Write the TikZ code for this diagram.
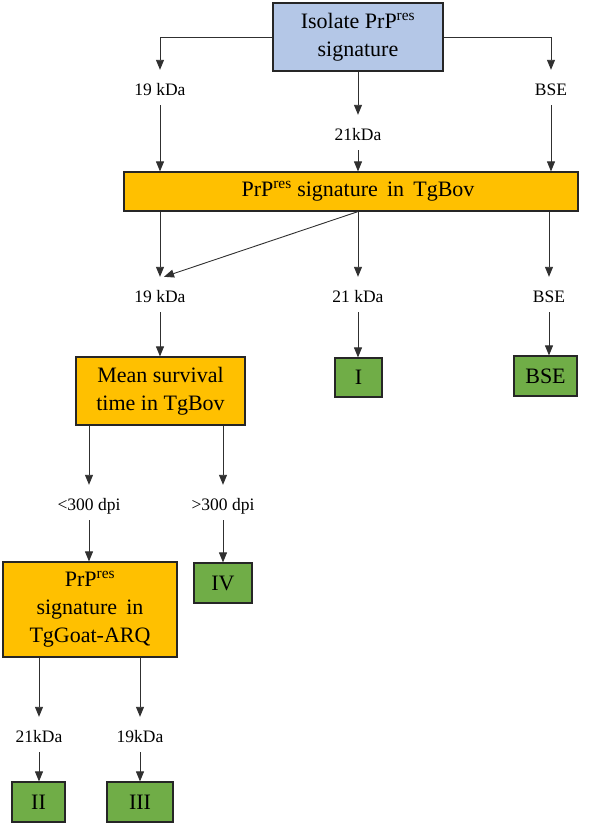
\documentclass[tikz,border=0pt]{standalone}
\usepackage{fontspec}
\setmainfont{Liberation Serif}
\usetikzlibrary{arrows.meta}
\definecolor{blueC}{HTML}{B4C7E7}
\definecolor{orangeC}{HTML}{FFC000}
\definecolor{greenC}{HTML}{70AD47}
\definecolor{lineC}{HTML}{303030}
\begin{document}
\begin{tikzpicture}[x=1pt,y=-1pt,
  box/.style={draw=black!85,line width=1.2pt,inner sep=0pt,align=center,
    font=\fontsize{22}{28}\selectfont},
  lbl/.style={inner sep=0pt,text height=25pt,text depth=10pt,anchor=base,
    font=\fontsize{17.5}{20}\selectfont},
  arr/.style={draw=lineC,line width=0.9pt,-{Triangle[length=10pt,width=8pt]}},
  ln/.style={draw=lineC,line width=0.9pt}]
\useasboundingbox (0,0) rectangle (597,825);
% top
\node[box,fill=blueC,minimum width=170pt,minimum height=68pt] (iso) at (358,37) {Isolate PrP\textsuperscript{res}\\signature};
\node[lbl] (l19a) at (160,95) {19 kDa};
\node[lbl] (l21a) at (358,140) {21kDa};
\node[lbl] (lbsea) at (551,95) {BSE};
\node[box,fill=orangeC,minimum width=454pt,minimum height=39pt] (bar) at (351,191.5) {\hspace*{14pt}PrP\textsuperscript{res} signature\, in\, TgBov};
\draw[arr] (iso.west) -| (l19a.north);
\draw[arr] (iso.east) -| (lbsea.north);
\draw[arr] (iso.south) -- (l21a.north);
\draw[arr] (l19a.south) -- (l19a.south |- bar.north);
\draw[arr] (l21a.south) -- (l21a.south |- bar.north);
\draw[arr] (lbsea.south) -- (lbsea.south |- bar.north);
% second row
\node[lbl] (l19b) at (160,302) {19 kDa};
\node[lbl] (l21b) at (358,302) {21 kDa};
\node[lbl] (lbseb) at (549,302) {BSE};
\draw[arr] (l19b.north |- bar.south) -- (l19b.north);
\draw[arr] (l21b.north |- bar.south) -- (l21b.north);
\draw[arr] (lbseb.north |- bar.south) -- (lbseb.north);
\draw[arr] (l21b.north |- bar.south) -- ([xshift=4pt]l19b.north);
\node[box,fill=orangeC,minimum width=169pt,minimum height=68pt] (mean) at (160.5,391) {Mean survival\\time in TgBov};
\node[box,fill=greenC,minimum width=47pt,minimum height=39pt] (gI) at (358.5,377.5) {I};
\node[box,fill=greenC,minimum width=63pt,minimum height=40pt] (gBSE) at (545.5,376) {BSE};
\draw[arr] (l19b.south) -- (l19b.south |- mean.north);
\draw[arr] (l21b.south) -- (l21b.south |- gI.north);
\draw[arr] (lbseb.south) -- (lbseb.south |- gBSE.north);
% third row
\node[lbl] (llt) at (89,510) {<300 dpi};
\node[lbl] (lgt) at (223,510) {>300 dpi};
\draw[arr] (llt.north |- mean.south) -- (llt.north);
\draw[arr] (lgt.north |- mean.south) -- (lgt.north);
\node[box,fill=orangeC,minimum width=174pt,minimum height=95pt] (goat) at (90,609.5) {PrP\textsuperscript{res}\\signature\, in\\TgGoat-ARQ};
\node[box,fill=greenC,minimum width=58pt,minimum height=40pt] (gIV) at (223,583) {IV};
\draw[arr] (llt.south) -- (llt.south |- goat.north);
\draw[arr] (lgt.south) -- (lgt.south |- gIV.north);
% fourth row
\node[lbl] (l21c) at (39,742) {21kDa};
\node[lbl] (l19c) at (140,742) {19kDa};
\draw[arr] (l21c.north |- goat.south) -- (l21c.north);
\draw[arr] (l19c.north |- goat.south) -- (l19c.north);
\node[box,fill=greenC,minimum width=53pt,minimum height=40pt] (gII) at (38.5,802) {II};
\node[box,fill=greenC,minimum width=66pt,minimum height=40pt] (gIII) at (140,802) {III};
\draw[arr] (l21c.south) -- (l21c.south |- gII.north);
\draw[arr] (l19c.south) -- (l19c.south |- gIII.north);
\end{tikzpicture}
\end{document}
